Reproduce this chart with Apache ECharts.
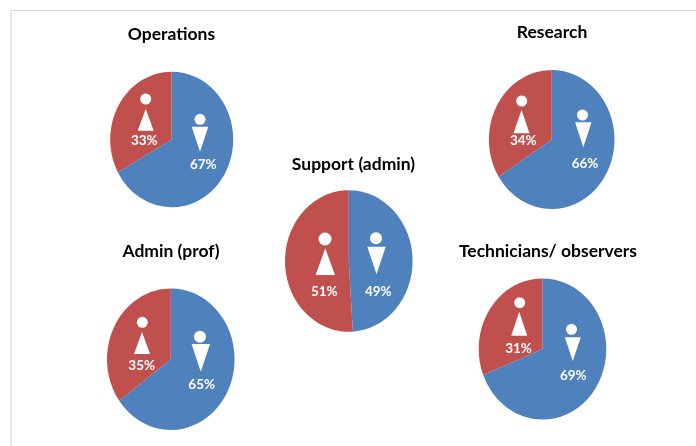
<!DOCTYPE html>
<html>
<head>
<meta charset="utf-8">
<style>
html,body{margin:0;padding:0;background:#fff;}
#main{width:696px;height:446px;filter:blur(0.35px);}
</style>
<script src="https://cdn.jsdelivr.net/npm/echarts@6/dist/echarts.min.js"></script>
</head>
<body>
<div id="main"></div>
<script>
var titles = ['Operations', 'Research', 'Support (admin)', 'Admin (prof)', 'Technicians/ observers'];
var menShare = [67, 66, 49, 65, 69];
var womenShare = [33, 34, 51, 35, 31];

var BLUE = '#4f81bd', RED = '#c0504d';
var font = 'Lato, "Open Sans", sans-serif';

// layout of each pie: centre, radii (the originals are a little squashed)
var pies = [
  {cx: 171.7, cy: 139.5, rx: 61.5, ry: 67.8, tx: 171.5, ty: 34},
  {cx: 551.7, cy: 139.5, rx: 62.8, ry: 69.5, tx: 552, ty: 32.5},
  {cx: 348.8, cy: 261, rx: 63.8, ry: 70.8, tx: 353.5, ty: 164},
  {cx: 170.8, cy: 359.2, rx: 63.8, ry: 70.8, tx: 171, ty: 251},
  {cx: 542.5, cy: 349, rx: 63.8, ry: 70.6, tx: 548, ty: 251}
];
// man / woman marks: [head x, head y, head r, top of triangle, bottom of triangle, triangle x, half width]
var men = [
  [200, 119.3, 5.5, 126.7, 151.7, 200, 8.3],
  [582.5, 115, 5.5, 122.3, 147.3, 583.3, 8.2],
  [376, 238.3, 6, 246.7, 274.3, 376.5, 9.2],
  [200, 336.7, 6, 344, 371.7, 200.8, 9.2],
  [571.5, 329.3, 5.5, 337.3, 361, 572.8, 8]
];
var women = [
  [145.7, 99, 5.5, 109, 130.7, 145.7, 8],
  [521.7, 101, 5.5, 110, 133.3, 521.5, 8],
  [325, 239, 6.5, 248.3, 275, 325.3, 9.6],
  [142.3, 322.3, 5.5, 332, 354, 142, 8],
  [519.7, 302.7, 5.5, 311.7, 335.7, 519.2, 8]
];
var labelPos = [
  [[203.3, 164.5], [144.3, 141]],
  [[585, 163.5], [523.3, 140.5]],
  [[378.3, 291.5], [324.3, 292]],
  [[201.7, 385], [141.7, 366]],
  [[573.3, 376], [518.5, 348.5]]
];

function sliceItem(params, api) {
  var p = pies[api.value(0)];
  var share = api.value(1), start = api.value(2);
  var a0 = -Math.PI / 2 + start / 100 * Math.PI * 2;
  var a1 = a0 + share / 100 * Math.PI * 2;
  return {
    type: 'sector',
    x: p.cx, y: p.cy,
    scaleX: p.rx / p.ry,
    shape: {cx: 0, cy: 0, r0: 0, r: p.ry, startAngle: a0, endAngle: a1, clockwise: true},
    style: {fill: api.value(3) === 0 ? BLUE : RED}
  };
}

var sliceData = [];
titles.forEach(function (t, i) {
  sliceData.push([i, menShare[i], 0, 0]);
  sliceData.push([i, womenShare[i], menShare[i], 1]);
});

var graphics = [
  {type: 'rect', silent: true, shape: {x: 10, y: 10, width: 686, height: 1}, style: {fill: '#d9d9d9'}},
  {type: 'rect', silent: true, shape: {x: 10, y: 10, width: 2, height: 436}, style: {fill: '#e8e8e8'}}
];
titles.forEach(function (t, i) {
  graphics.push({type: 'text', z: 5, style: {text: t, x: pies[i].tx, y: pies[i].ty, align: 'center', verticalAlign: 'middle', fill: '#000', font: 'bold 17.5px ' + font}});
  var m = men[i], w = women[i];
  graphics.push({type: 'circle', z: 5, shape: {cx: m[0], cy: m[1], r: m[2]}, style: {fill: '#fff'}});
  graphics.push({type: 'polygon', z: 5, shape: {points: [[m[5] - m[6], m[3]], [m[5] + m[6], m[3]], [m[5], m[4]]]}, style: {fill: '#fff'}});
  graphics.push({type: 'circle', z: 5, shape: {cx: w[0], cy: w[1], r: w[2]}, style: {fill: '#fff'}});
  graphics.push({type: 'polygon', z: 5, shape: {points: [[w[5], w[3]], [w[5] + w[6], w[4]], [w[5] - w[6], w[4]]]}, style: {fill: '#fff'}});
  [menShare[i], womenShare[i]].forEach(function (v, k) {
    graphics.push({type: 'text', z: 5, style: {text: v + '%', x: labelPos[i][k][0], y: labelPos[i][k][1], align: 'center', verticalAlign: 'middle', fill: '#fff', font: 'bold 13.5px ' + font}});
  });
});

var myChart = echarts.init(document.getElementById('main'));
myChart.setOption({
  animation: false,
  backgroundColor: '#fff',
  graphic: graphics,
  series: [{
    type: 'custom',
    coordinateSystem: 'none',
    silent: true,
    renderItem: sliceItem,
    data: sliceData
  }]
});
</script>
</body>
</html>
